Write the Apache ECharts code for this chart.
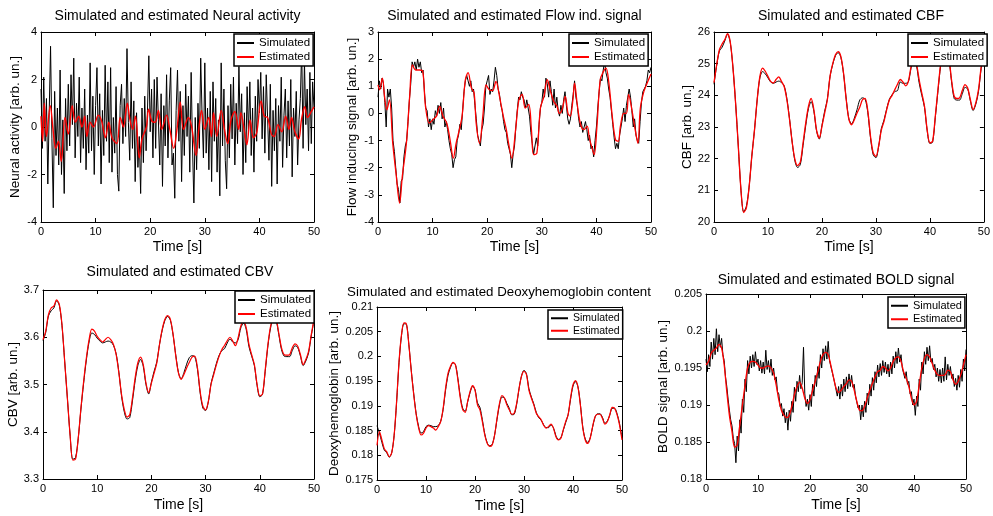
<!DOCTYPE html>
<html><head><meta charset="utf-8">
<script src="https://cdn.jsdelivr.net/npm/echarts@6/dist/echarts.min.js"></script>
<style>html,body{margin:0;padding:0;background:#fff}#c{width:993px;height:516px}</style>
</head><body><div id="c"></div>
<script>
// ---------------- DATA ----------------
const timeTicks = [0, 10, 20, 30, 40, 50];
const fineStep = 0.25;   // sampling of the noisy simulated traces (s)
const coarseStep = 0.5;  // sampling of the smooth traces (s)

const titles = [
  'Simulated and estimated Neural activity',
  'Simulated and estimated Flow ind. signal',
  'Simulated and estimated CBF',
  'Simulated and estimated CBV',
  'Simulated and estimated Deoxyhemoglobin content',
  'Simulated and estimated BOLD signal'
];
const yNames = [
  'Neural activity [arb. un.]',
  'Flow inducing signal [arb. un.]',
  'CBF [arb. un.]',
  'CBV [arb. un.]',
  'Deoxyhemoglobin [arb. un.]',
  'BOLD signal [arb. un.]'
];
const seriesNames = ['Simulated', 'Estimated'];

const neuralSim = [
 1.6,-0.9,2.1,-0.6, 1.2,-2.4,0.6,3.4, -0.5,-3.4,1.5,-1.2, 0.8,-1.6,2.4,-2.0, 0.3,-2.8,1.2,-1.0,
 1.8,-0.8,2.2,0.1, 2.9,-1.3,1.0,-0.4, 2.1,-1.5,0.8,-0.9, 1.6,-1.8,0.5,-1.1, 2.7,-1.0,1.3,-2.0,
 0.9,2.5,-0.8,1.4, -2.4,0.7,-1.2,2.6, -0.6,1.9,-1.5,2.5, -1.9,0.4,-1.1,1.7, -2.0,-2.7,0.9,1.8,
 -0.7,1.2,-0.4,3.3, 0.2,-1.4,1.9,-0.9, 1.1,-2.3,0.6,-1.7, -0.4,-2.8,0.8,-1.5, 1.3,-1.0,0.7,3.0,
 -0.2,1.6,-1.3,2.0, -0.9,2.1,0.3,-1.6, 1.4,-2.5,0.9,-0.8, 2.2,-1.3,1.1,2.5, -1.6,-1.1,-3.0,0.7,
 2.4,-0.6,1.5,-2.3, 0.9,-1.2,1.8,-0.4, 1.3,-1.9,2.3,-0.8, -3.2,0.4,-1.8,1.0, -0.9,2.9,0.5,-1.3,
 2.7,-1.1,0.8,-1.8, 1.5,-2.3,1.9,-0.6, 1.2,-1.9,0.3,-2.9, 2.7,-0.8,1.6,-1.4, -2.6,0.9,-1.3,1.8,
 -0.5,2.1,-1.6,1.0, -0.7,2.55,-0.2,1.4, -2.0,0.6,-1.5,1.7, -0.3,1.9,-1.2,0.8, -1.9,1.3,-0.6,2.0,
 0.6,2.3,-0.5,1.7, -1.1,2.2,0.4,-1.4, 1.8,-2.5,0.7,-1.0, 1.2,-2.4,0.9,-0.6, 2.1,-1.7,0.5,1.6,
 -1.3,1.1,-0.8,2.0, -2.1,0.8,-0.4,1.5, -1.6,0.3,1.2,3.3, -0.9,2.8,0.1,1.6, -1.0,2.3,-0.7,1.9,
 0.8
];
const neuralEstT = [0,0.3,0.6,1.0,1.7,2.2,2.7,3.2,3.7,4.4,5.0,5.7,6.3,6.9,7.5,8.0,8.4,9.0,9.6,10.5,
 11.1,11.8,12.4,13.0,13.9,14.5,15.1,15.8,16.3,16.8,17.3,18.0,18.5,19.3,19.7,20.3,20.9,21.5,22.1,23.0,
 23.6,24.3,24.9,25.5,26.1,27.0,27.6,28.4,28.9,29.4,30.0,30.7,31.2,31.6,32.2,33.0,33.6,34.2,34.8,35.5,
 36.2,36.6,37.3,37.7,38.3,38.9,39.5,40.3,40.9,41.5,42.2,42.7,43.4,44.1,44.8,45.4,45.9,46.5,47.2,47.7,
 48.3,48.8,49.5,50];
const neuralEstV = [0.45,-0.6,1.0,-0.4,0.9,-0.1,-0.9,-0.6,-1.45,0.4,
 -0.3,0.9,0.2,0.45,0.0,0.45,-0.4,0.2,0.0,0.5,
 0.25,-0.45,0.2,-0.45,-0.7,0.4,0.0,1.0,0.3,-0.1,
 0.45,-1.3,-0.5,0.0,0.75,0.25,0.2,0.7,-0.1,0.5,
 -0.1,-0.9,-0.1,1.05,-0.1,0.4,0.0,-1.2,-0.1,0.7,
 -0.1,0.4,-0.4,0.6,-0.4,0.7,-0.1,-0.7,0.3,0.65,
 -0.1,0.6,-0.25,-0.75,0.3,-0.45,-0.25,1.1,0.45,0.4,
 -0.3,-0.4,0.1,-0.2,0.45,-0.1,0.4,-0.2,-0.5,0.3,
 0.85,0.4,0.65,0.85];

const flowSim = [
 0.6,1.2,0.9,1.3, 1.1,0.4,-0.5,0.9, 0.6,0.9,0.2,-1.0, -1.4,-2.0,-2.6,-2.8, -3.3,-2.5,-2.4,-1.6,
 -1.2,-1.0,-0.3,0.5, 1.1,1.9,1.7,1.9, 1.6,2.0,1.7,1.9, 1.5,1.6,0.8,0.2, 0.1,-0.5,-0.2,-0.6,
 -0.2,-0.4,0.1,-0.1, 0.3,0.0,0.4,-0.2, 0.2,-0.5,-0.3,-0.6, -1.0,-1.3,-1.5,-2.0, -1.7,-1.6,-1.0,-0.8,
 -0.4,-0.6,0.1,0.8, 1.2,1.4,1.2,1.0, 1.2,0.8,0.9,0.3, -0.2,-0.8,-1.0,-1.2, -0.6,-0.4,0.2,1.0,
 1.2,1.4,0.7,0.9, 0.8,1.2,1.7,1.4, 0.9,0.7,0.3,0.1, -0.3,-0.6,-0.7,-1.1, -1.3,-1.5,-2.0,-1.5,
 -1.2,-0.5,0.1,0.6, 0.5,0.8,0.6,0.5, 0.2,0.5,0.2,-0.1, -0.7,-1.1,-1.5,-1.2, -0.9,-1.2,-0.4,0.2,
 0.4,0.9,0.6,1.3, 1.1,0.6,1.2,0.8, 0.3,0.9,0.2,0.6, 0.1,-0.1,0.3,0.0, 0.5,0.8,0.3,-0.2,
 -0.4,-0.2,0.3,0.7, 1.2,0.6,0.3,-0.2, -0.5,-0.3,-0.7,-0.5, -0.3,-0.6,-1.0,-0.8, -1.3,-1.2,-1.6,-1.0,
 -0.5,0.2,0.8,1.3, 1.2,1.6,1.9,1.5, 1.3,0.9,0.6,0.1, -0.4,-0.9,-1.3,-1.1, -1.3,-0.8,-0.5,-0.2,
 0.2,-0.3,0.3,0.6, 0.9,0.6,0.1,-0.5, -0.2,-0.8,-1.0,-1.1, -0.3,0.4,0.8,0.9, 1.0,1.2,1.6,1.5,
 1.7
];
const flowEstT = [0,0.3,0.8,1.2,1.6,2.1,2.7,3.3,3.96,4.45,5.2,5.8,6.3,6.9,7.6,8.2,8.7,9.4,10.05,10.7,
 11.3,11.9,12.6,13.2,13.8,14.3,14.9,15.4,16.0,16.5,17.1,17.6,18.0,18.6,19.2,19.8,20.4,21.0,21.6,22.25,
 22.9,23.5,23.96,24.5,25.2,25.8,26.4,26.97,27.6,28.1,28.5,29.1,29.75,30.4,31.0,31.6,32.2,32.8,33.2,33.7,
 34.3,34.8,35.2,35.7,36.0,36.5,37.1,37.7,38.3,38.7,39.2,39.6,40.1,40.7,41.3,41.76,42.25,42.9,43.5,44.0,
 44.4,45.0,45.5,45.9,46.5,47.1,47.6,48.05,48.7,49.3,50];
const flowEstV = [1.05,0.87,1.3,0.63,0.13,0.5,-1.1,-2.2,-3.3,-2.32,-1.1,0.63,1.79,1.6,1.6,1.55,0.26,-0.36,-0.23,-0.1,
 0.26,-0.1,-0.36,-0.97,-1.65,-1.1,-0.6,-0.1,1.24,1.5,0.94,0.76,-0.4,-1.1,-0.1,1.05,0.87,0.84,1.18,0.63,
 -0.05,-0.6,-1.15,-1.65,-0.6,0.5,0.7,0.2,0.33,-0.6,-1.52,-1.46,0.2,0.63,1.24,0.81,0.44,0.26,0.0,0.13,
 0.63,0.0,-0.1,0.5,1.12,0.32,-0.4,-0.6,-0.47,-0.9,-1.27,-1.52,-0.47,1.24,1.55,1.67,1.18,-0.1,-0.97,-1.03,
 -0.47,0.0,0.0,0.7,0.13,-0.6,-1.1,0.2,0.81,1.12,1.45];

const cbfSim = [24.35,24.95,25.4,25.52,25.72,25.93,25.68,24.9,23.76,22.4,21.0,20.32,20.5,21.1,22.07,22.9,23.86,24.55,24.75,24.68,
 24.55,24.42,24.38,24.42,24.45,24.4,24.3,23.9,23.25,22.5,21.92,21.72,21.82,22.42,23.05,23.58,23.8,23.5,22.88,22.62,
 23.05,23.5,23.88,24.6,24.98,25.25,25.35,25.2,24.68,23.88,23.25,23.1,23.28,23.55,23.85,23.92,23.88,23.45,22.65,22.12,
 22.03,22.38,22.95,23.22,23.58,23.88,24.02,24.12,24.15,24.42,24.38,24.38,24.42,24.85,25.15,24.95,24.4,24.0,23.62,22.88,
 22.48,22.52,23.3,24.15,24.95,25.45,25.55,25.2,24.45,23.9,23.85,23.85,24.05,24.25,24.2,23.82,23.52,23.72,24.12,24.85,
 25.35];
const cbfEst = [24.4,24.97,25.44,25.62,25.76,25.95,25.7,24.9,23.76,22.4,21.0,20.3,20.45,21.1,22.07,22.9,23.86,24.6,24.86,24.76,
 24.6,24.44,24.39,24.5,24.58,24.44,24.28,23.86,23.23,22.5,21.97,21.78,21.9,22.5,23.13,23.65,23.9,23.55,22.9,22.65,
 23.02,23.44,23.86,24.6,25.0,25.28,25.38,25.23,24.7,23.86,23.23,23.07,23.23,23.44,23.62,23.86,23.9,23.5,22.7,22.18,
 22.07,22.4,22.9,23.18,23.55,23.86,24.0,24.18,24.35,24.5,24.42,24.3,24.44,24.9,25.2,25.0,24.5,24.07,23.65,22.9,
 22.5,22.55,23.34,24.2,25.0,25.5,25.6,25.23,24.5,23.97,23.9,23.92,24.15,24.34,24.23,23.86,23.55,23.76,24.18,24.9,
 25.4];

const cbvSim = [3.593,3.61,3.645,3.656,3.662,3.677,3.668,3.625,3.549,3.471,3.393,3.342,3.345,3.386,3.448,3.503,3.552,3.59,3.609,3.606,
 3.598,3.592,3.588,3.59,3.592,3.59,3.583,3.565,3.526,3.475,3.442,3.427,3.43,3.465,3.508,3.54,3.553,3.538,3.5,3.48,
 3.505,3.528,3.548,3.585,3.615,3.636,3.644,3.636,3.605,3.562,3.525,3.512,3.525,3.543,3.557,3.561,3.559,3.532,3.482,3.45,
 3.445,3.463,3.502,3.524,3.545,3.562,3.572,3.576,3.588,3.596,3.59,3.588,3.595,3.62,3.63,3.616,3.58,3.56,3.54,3.498,
 3.474,3.479,3.528,3.582,3.62,3.637,3.635,3.606,3.574,3.56,3.559,3.559,3.572,3.582,3.578,3.56,3.54,3.55,3.567,3.603,
 3.635];
const cbvEst = [3.595,3.613,3.648,3.662,3.666,3.679,3.67,3.627,3.549,3.471,3.393,3.34,3.342,3.386,3.45,3.507,3.556,3.595,3.617,3.613,
 3.602,3.595,3.59,3.595,3.6,3.595,3.585,3.563,3.524,3.478,3.447,3.431,3.436,3.471,3.514,3.546,3.558,3.542,3.503,3.483,
 3.503,3.524,3.546,3.585,3.617,3.638,3.646,3.638,3.606,3.56,3.524,3.511,3.521,3.535,3.547,3.558,3.56,3.535,3.485,3.454,
 3.446,3.464,3.5,3.521,3.542,3.56,3.574,3.583,3.593,3.6,3.592,3.582,3.599,3.624,3.633,3.62,3.585,3.563,3.542,3.5,
 3.476,3.48,3.531,3.585,3.624,3.64,3.638,3.609,3.578,3.563,3.562,3.563,3.578,3.586,3.581,3.563,3.542,3.553,3.57,3.606,
 3.638];

const deoxySim = [0.186,0.1845,0.1826,0.181,0.1805,0.1796,0.1805,0.184,0.1907,0.1988,0.2042,0.2066,0.2065,0.2024,0.1971,0.1924,0.1884,0.1858,0.1845,0.1848,
 0.1858,0.1861,0.186,0.1858,0.1858,0.186,0.1869,0.1893,0.1932,0.1962,0.1978,0.1987,0.1984,0.1956,0.1919,0.1895,0.1889,0.1908,0.1927,0.1939,
 0.1933,0.1906,0.1897,0.1872,0.1843,0.1825,0.1819,0.1822,0.1841,0.1873,0.1902,0.1918,0.1916,0.1905,0.1895,0.1882,0.1883,0.1903,0.1935,0.1961,
 0.1972,0.1965,0.1935,0.1918,0.1904,0.1887,0.1876,0.1871,0.1862,0.1856,0.1856,0.1861,0.1856,0.184,0.1832,0.1835,0.185,0.1866,0.1882,0.1913,
 0.194,0.1949,0.1939,0.1904,0.1857,0.1833,0.1826,0.1835,0.1857,0.1877,0.1884,0.1884,0.1877,0.1865,0.1869,0.1881,0.1895,0.1895,0.1884,0.1864,
 0.1835];
const deoxyEst = [0.182,0.1848,0.1831,0.1813,0.1807,0.1797,0.1805,0.1841,0.1909,0.199,0.2044,0.2068,0.2066,0.2024,0.197,0.1922,0.1882,0.1855,0.1841,0.1845,
 0.1855,0.186,0.1858,0.1855,0.1851,0.1858,0.1868,0.1895,0.1936,0.1966,0.198,0.1988,0.1983,0.1953,0.1916,0.1892,0.1887,0.1909,0.1929,0.1941,
 0.1932,0.1902,0.1892,0.1868,0.1841,0.1824,0.1818,0.1821,0.1841,0.1875,0.1905,0.1921,0.1916,0.1902,0.1892,0.1883,0.1885,0.1905,0.1936,0.196,
 0.197,0.1963,0.1932,0.1916,0.1902,0.1885,0.1878,0.1872,0.1861,0.1855,0.1858,0.1863,0.1855,0.1838,0.1831,0.1834,0.1851,0.1868,0.1882,0.1916,
 0.1943,0.1951,0.1939,0.1902,0.1855,0.1831,0.1824,0.1834,0.1858,0.1878,0.1883,0.1883,0.1875,0.1863,0.1868,0.1882,0.1897,0.1895,0.1882,0.1861,
 0.1831];

const boldSim = [
 0.1962,0.1945,0.1968,0.1952, 0.1985,0.1962,0.1990,0.1968, 0.2003,0.1972,0.1995,0.1978, 0.1990,0.1968,0.1960,0.1938, 0.1925,0.1908,0.1893,0.1880,
 0.1872,0.1855,0.1848,0.1822, 0.1858,0.1838,0.1880,0.1862, 0.1908,0.1890,0.1935,0.1918, 0.1960,0.1942,0.1966,0.1950, 0.1968,0.1952,0.1972,0.1955,
 0.1962,0.1946,0.1960,0.1943, 0.1958,0.1942,0.1974,0.1948, 0.1960,0.1944,0.1962,0.1940, 0.1950,0.1934,0.1938,0.1918, 0.1915,0.1898,0.1902,0.1885,
 0.1895,0.1876,0.1890,0.1866, 0.1893,0.1878,0.1905,0.1890, 0.1924,0.1905,0.1932,0.1918, 0.1940,0.1922,0.1930,0.1978, 0.1915,0.1898,0.1908,0.1893,
 0.1914,0.1898,0.1928,0.1912, 0.1940,0.1925,0.1952,0.1936, 0.1968,0.1950,0.1976,0.1960, 0.1980,0.1962,0.1986,0.1960, 0.1962,0.1945,0.1946,0.1930,
 0.1930,0.1912,0.1925,0.1908, 0.1928,0.1912,0.1935,0.1918, 0.1938,0.1922,0.1942,0.1925, 0.1940,0.1924,0.1928,0.1912, 0.1912,0.1896,0.1900,0.1880,
 0.1900,0.1884,0.1905,0.1890, 0.1916,0.1900,0.1928,0.1912, 0.1937,0.1920,0.1945,0.1930, 0.1954,0.1938,0.1956,0.1940, 0.1960,0.1944,0.1958,0.1942,
 0.1955,0.1938,0.1958,0.1942, 0.1966,0.1950,0.1972,0.1956, 0.1977,0.1958,0.1968,0.1950, 0.1952,0.1936,0.1945,0.1928, 0.1932,0.1915,0.1918,0.1900,
 0.1908,0.1886,0.1912,0.1898, 0.1935,0.1920,0.1958,0.1942, 0.1972,0.1955,0.1978,0.1960, 0.1980,0.1958,0.1963,0.1948, 0.1955,0.1938,0.1950,0.1932,
 0.1948,0.1930,0.1950,0.1932, 0.1965,0.1934,0.1955,0.1940, 0.1952,0.1936,0.1942,0.1925, 0.1936,0.1920,0.1940,0.1924, 0.1948,0.1932,0.1962,0.1946,
 0.1975
];
const boldEst = [0.1954,0.1959,0.197,0.1974,0.1977,0.1982,0.1977,0.1954,0.1918,0.1886,0.1864,0.1843,0.1846,0.1873,0.19,0.1927,0.195,0.1958,0.1959,0.1958,
 0.1954,0.195,0.195,0.1952,0.1953,0.195,0.1943,0.1927,0.1907,0.1893,0.1886,0.1883,0.1886,0.1898,0.1914,0.1925,0.1931,0.1923,0.1909,0.1902,
 0.1907,0.192,0.1932,0.1945,0.1959,0.1968,0.1971,0.1968,0.1954,0.1938,0.1923,0.1917,0.192,0.1925,0.1929,0.1934,0.1932,0.192,0.1905,0.1893,
 0.1892,0.1898,0.1909,0.192,0.1929,0.1938,0.1945,0.1947,0.1952,0.195,0.1946,0.195,0.1959,0.1964,0.1965,0.1959,0.1945,0.1936,0.1925,0.1909,
 0.19,0.1905,0.1927,0.195,0.1963,0.1968,0.1965,0.1956,0.1947,0.1941,0.194,0.194,0.1941,0.1947,0.1945,0.1934,0.1928,0.1932,0.1941,0.1954,
 0.1968];

// y-axis ranges [min, max, interval]
const yRanges = [[-4,4,2],[-4,3,1],[20,26,1],[3.3,3.7,0.1],[0.175,0.21,0.005],[0.18,0.205,0.005]];

// ---------------- LAYOUT / STYLE ----------------
const FONT = '"Liberation Sans", Arial, Helvetica, sans-serif';
const layout = [
  {grid:{left:41,top:32,width:273,height:190}, tx:177.5, ty:9, tfs:14, xGap:18, yGap:19, lx:234, ly:34, lfs:11.5, lh:14},
  {grid:{left:378,top:32,width:273,height:190}, tx:514.5, ty:9, tfs:14, xGap:18, yGap:19, lx:569, ly:34, lfs:11.5, lh:14},
  {grid:{left:714,top:32,width:274,height:190}, tx:851, ty:9, tfs:14, xGap:18, yGap:17, lx:908, ly:34, lfs:11.5, lh:14},
  {grid:{left:43,top:290,width:271,height:189}, tx:180, ty:265, tfs:14, xGap:19, yGap:21, lx:235, ly:291, lfs:11.5, lh:14},
  {grid:{left:377,top:307,width:245,height:173}, tx:499, ty:286, tfs:13.3, xGap:19, yGap:30, lx:548, ly:310, lfs:10.5, lh:12.5},
  {grid:{left:706,top:294,width:260,height:185}, tx:836, ty:273, tfs:14, xGap:19, yGap:31, lx:888, ly:297, lfs:11, lh:13.5}
];

const pairs = (ts, vs) => ts.map((t, i) => [t, vs[i]]);
const sampled = (vs, step) => vs.map((v, i) => [Math.round(i * step * 100) / 100, v]);

const panelData = [
  {sim: sampled(neuralSim, fineStep), est: pairs(neuralEstT, neuralEstV), simSmooth:false, estSmooth:0.35, estW:1.4},
  {sim: sampled(flowSim, fineStep), est: pairs(flowEstT, flowEstV), simSmooth:false, estSmooth:0.35, estW:1.3},
  {sim: sampled(cbfSim, coarseStep), est: sampled(cbfEst, coarseStep), simSmooth:0.3, estSmooth:0.3, estW:1.3},
  {sim: sampled(cbvSim, coarseStep), est: sampled(cbvEst, coarseStep), simSmooth:0.3, estSmooth:0.3, estW:1.2},
  {sim: sampled(deoxySim, coarseStep), est: sampled(deoxyEst, coarseStep), simSmooth:0.3, estSmooth:0.3, estW:1.2},
  {sim: sampled(boldSim, fineStep), est: sampled(boldEst, coarseStep), simSmooth:false, estSmooth:0.3, estW:1.3}
];

const axisLine = {show:true, onZero:false, lineStyle:{color:'#000', width:1}};
const axisTick = {show:true, inside:true, length:4, lineStyle:{color:'#000', width:1}};
const labelStyle = {fontFamily:FONT, fontSize:11, color:'#000'};
const nameStyle = (fs) => ({fontFamily:FONT, fontSize:fs, color:'#000'});

const grids = [], xAxes = [], yAxes = [], series = [], titleOpts = [], legends = [];
layout.forEach((L, i) => {
  const [ymin, ymax, yint] = yRanges[i];
  const d = panelData[i];
  grids.push(Object.assign({containLabel:false, show:false}, L.grid));
  xAxes.push({type:'value', gridIndex:i, min:timeTicks[0], max:timeTicks[timeTicks.length-1], interval:timeTicks[1]-timeTicks[0],
    position:'bottom', name:'Time [s]', nameLocation:'middle', nameGap:L.xGap, nameTextStyle:nameStyle(14),
    axisLine, axisTick, splitLine:{show:false}, axisLabel:Object.assign({margin:4}, labelStyle)});
  xAxes.push({type:'value', gridIndex:i, min:timeTicks[0], max:timeTicks[timeTicks.length-1], interval:timeTicks[1]-timeTicks[0],
    position:'top', axisLine, axisTick, splitLine:{show:false}, axisLabel:{show:false}});
  yAxes.push({type:'value', gridIndex:i, min:ymin, max:ymax, interval:yint, position:'left',
    name:yNames[i], nameLocation:'middle', nameGap:L.yGap, nameTextStyle:nameStyle(13.5),
    axisLine, axisTick, splitLine:{show:false}, axisLabel:Object.assign({margin:4}, labelStyle)});
  yAxes.push({type:'value', gridIndex:i, min:ymin, max:ymax, interval:yint, position:'right',
    axisLine, axisTick, splitLine:{show:false}, axisLabel:{show:false}});
  series.push({name:seriesNames[0], type:'line', xAxisIndex:2*i, yAxisIndex:2*i, data:d.sim,
    symbol:'none', showSymbol:false, smooth:d.simSmooth, lineStyle:{color:'#000', width:1}, itemStyle:{color:'#000'}, silent:true, z:2});
  series.push({name:seriesNames[1], type:'line', xAxisIndex:2*i, yAxisIndex:2*i, data:d.est,
    symbol:'none', showSymbol:false, smooth:d.estSmooth, lineStyle:{color:'#ff0000', width:d.estW}, itemStyle:{color:'#ff0000'}, silent:true, z:3});
  titleOpts.push({text:titles[i], left:L.tx, top:L.ty, textAlign:'center', padding:0,
    textStyle:{fontFamily:FONT, fontSize:L.tfs, fontWeight:'normal', color:'#000'}});
  legends.push({data:seriesNames, orient:'vertical', left:L.lx, top:L.ly, icon:'rect', itemWidth:17, itemHeight:2,
    itemGap:0, padding:[2,3,2,3], backgroundColor:'#fff', borderColor:'#000', borderWidth:1.5, selectedMode:false,
    textStyle:{fontFamily:FONT, fontSize:L.lfs, lineHeight:L.lh, color:'#000'}, z:10});
});

const chart = echarts.init(document.getElementById('c'), null, {renderer:'canvas'});
chart.setOption({
  animation:false,
  backgroundColor:'#fff',
  title:titleOpts,
  legend:legends,
  grid:grids,
  xAxis:xAxes,
  yAxis:yAxes,
  series:series
});
</script>
</body></html>
